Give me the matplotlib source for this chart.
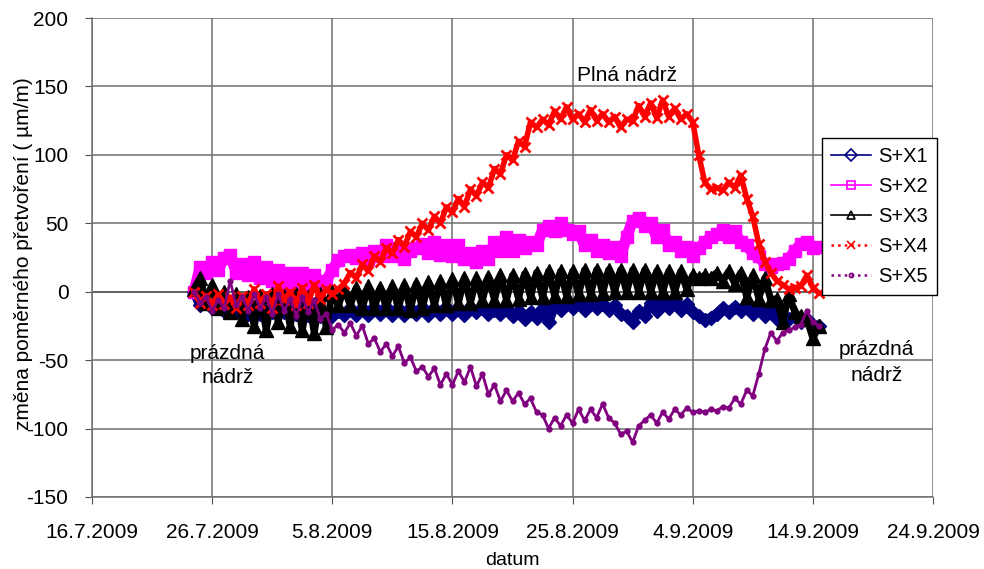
import matplotlib
matplotlib.use('Agg')
import matplotlib.pyplot as plt
import matplotlib.dates as mdates
from matplotlib.lines import Line2D
from matplotlib.ticker import FuncFormatter
import pandas as pd

plt.rcParams['font.family'] = ['Liberation Sans', 'DejaVu Sans']
plt.rcParams['axes.unicode_minus'] = False

# ---- data (half-day samples starting 24.7.2009 12:00) ----
start = '2009-07-24 12:00'
series_names = ['S+X1', 'S+X2', 'S+X3', 'S+X4', 'S+X5']

sx1 = [0, -10, -8, -12, -10, -14, -10, -15, -12, -16, -12, -16, -12, -15, -11, -15,
       -12, -16, -12, -17, -13, -18, -18, -18, -14, -17, -12, -17, -12, -17, -11, -16,
       -11, -17, -12, -17, -12, -16, -11, -17, -12, -16, -11, -16, -12, -17, -11, -15,
       -12, -16, -13, -16, -12, -18, -14, -20, -15, -19, -12, -22, -10, -13, -8, -12,
       -8, -13, -8, -12, -9, -13, -10, -16, -18, -22, -14, -18, -8, -14, -6, -12,
       -7, -13, -9, -15, -18, -21, -19, -16, -12, -15, -11, -14, -10, -16, -11, -18,
       -14, -20, -18, -20, -18, -22, -20, -24, -25]

sx2 = [0, 18, 14, 22, 16, 25, 27, 14, 20, 12, 22, 10, 18, 8, 16, 6,
       14, 5, 14, 4, 12, 4, 8, 16, 23, 26, 27, 25, 28, 24, 30, 26,
       34, 26, 32, 24, 30, 32, 35, 28, 36, 27, 34, 26, 34, 24, 28, 22,
       30, 24, 36, 30, 40, 30, 38, 32, 36, 34, 45, 48, 44, 50, 45, 42,
       44, 34, 38, 30, 34, 28, 33, 26, 40, 52, 54, 48, 50, 40, 45, 34,
       36, 30, 33, 26, 32, 36, 40, 42, 45, 40, 44, 36, 34, 28, 26, 20,
       18, 20, 21, 24, 30, 35, 36, 32, 33]

sx3 = [2, 10, -8, 5, -12, 0, -15, -2, -20, -4, -25, -3, -28, -2, -22, -3,
       -25, -2, -28, -4, -30, -2, -26, 0, -10, 2, -10, 3, -12, 4, -12, 3,
       -12, 4, -12, 5, -13, 6, -12, 7, -10, 8, -10, 9, -8, 10, -8, 10,
       -6, 11, -6, 12, -6, 12, -5, 13, -4, 14, -4, 15, -3, 15, -3, 15,
       -2, 16, -2, 16, -1, 16, 0, 16, 0, 16, 0, 16, 0, 15, 0, 15,
       0, 15, 2, 12, 10, 12, 10, 14, 8, 15, 6, 14, -4, 12, -5, 10,
       -6, -5, -22, -2, -15, -18, -20, -34, -25]

sx4 = [0, -8, -3, -10, -2, -9, -4, -12, -3, -10, 2, -8, -2, -12, 4, -6,
       0, -10, 3, -8, 5, -5, 2, -2, 2, 6, 14, 10, 20, 15, 26, 22,
       32, 28, 38, 33, 44, 40, 50, 45, 55, 50, 62, 58, 68, 62, 75, 70,
       80, 76, 90, 86, 100, 96, 110, 106, 124, 120, 126, 122, 132, 126, 135, 126,
       130, 124, 133, 125, 130, 124, 128, 120, 126, 125, 136, 128, 138, 127, 140, 128,
       134, 126, 130, 124, 100, 80, 75, 76, 74, 80, 76, 85, 68, 55, 35, 22,
       14, 8, 5, 2, 3, 4, 12, 3, -1]

sx5 = [0, -8, -4, -14, -6, -12, 8, -10, -4, -14, -2, -12, -4, -16, -2, -14,
       -5, -18, -4, -15, -6, -20, -16, -28, -24, -30, -23, -32, -25, -38, -34, -44,
       -38, -47, -40, -52, -48, -58, -55, -62, -56, -68, -60, -68, -58, -66, -55, -69,
       -60, -75, -68, -80, -72, -80, -74, -82, -78, -88, -90, -100, -92, -98, -90, -96,
       -86, -94, -86, -92, -82, -92, -96, -104, -102, -110, -98, -94, -90, -96, -88, -93,
       -86, -90, -85, -88, -87, -88, -86, -87, -84, -85, -78, -82, -72, -76, -60, -42,
       -30, -36, -30, -28, -26, -24, -14, -22, -25]

x_ticks = ['2009-07-16', '2009-07-26', '2009-08-05', '2009-08-15', '2009-08-25',
           '2009-09-04', '2009-09-14', '2009-09-24']
y_ticks = [-150, -100, -50, 0, 50, 100, 150, 200]

all_series = [sx1, sx2, sx3, sx4, sx5]
colors = ['#000080', '#FF00FF', '#000000', '#FF0000', '#800080']
markers = ['D', 's', '^', 'x', 'o']
linestyles = ['-', '-', '-', ':', ':']

times = pd.date_range(start, periods=len(sx1), freq='12h')

fig = plt.figure(figsize=(9.84, 5.69), dpi=100)
ax = fig.add_axes([92/984, 1-497/569, (933-92)/984, (497-18)/569])

band_lw = [7, 8, 5, 4, 2]
msz = [7, 8, 10, 7, 3.5]
for vals, c, m, lw, ms in zip(all_series, colors, markers, band_lw, msz):
    ax.plot(times, vals, color=c, lw=lw, solid_joinstyle='round', solid_capstyle='round', zorder=3)
    if m == 'x':
        ax.plot(times, vals, ls='none', marker=m, ms=ms, mec=c, mew=2, zorder=3)
    else:
        ax.plot(times, vals, ls='none', marker=m, ms=ms, mfc=c, mec=c, zorder=3)

xt = pd.to_datetime(x_ticks)
ax.set_xlim(xt[0], xt[-1])
ax.set_xticks(xt)
ax.xaxis.set_major_formatter(FuncFormatter(
    lambda v, p: (lambda d: f"{d.day}.{d.month}.{d.year}")(mdates.num2date(v))))
ax.set_ylim(-150, 200)
ax.set_yticks(y_ticks)

ax.grid(True, color='#707070', lw=1.1, zorder=1)
ax.axhline(0, color='black', lw=1.1, zorder=1.5)
for s in ['top', 'right']:
    ax.spines[s].set_visible(False)
for s in ['left', 'bottom']:
    ax.spines[s].set_color('#707070')
    ax.spines[s].set_linewidth(1.1)

ax.tick_params(axis='both', direction='out', length=5, color='#505050', labelsize=15)
ax.tick_params(axis='x', pad=14)
ax.tick_params(axis='y', pad=12)

ax.set_xlabel('datum', fontsize=14, labelpad=7)
ax.set_ylabel('změna poměrného přetvoření ( µm/m)', fontsize=15)
ax.yaxis.set_label_coords((33 - 92) / 841, (497 - 254) / 479)

# annotations
ax.text(pd.Timestamp('2009-08-29 12:00'), 158, 'Plná nádrž', fontsize=15, ha='center', va='center')
ax.text(pd.Timestamp('2009-07-27 07:00'), -45, 'prázdná', fontsize=15, ha='center', va='center')
ax.text(pd.Timestamp('2009-07-27 07:00'), -63, 'nádrž', fontsize=15, ha='center', va='center')
ax.text(pd.Timestamp('2009-09-19 07:00'), -42, 'prázdná', fontsize=15, ha='center', va='center', clip_on=False)
ax.text(pd.Timestamp('2009-09-19 07:00'), -61, 'nádrž', fontsize=15, ha='center', va='center', clip_on=False)

handles = []
for c, m, ls in zip(colors, markers, linestyles):
    handles.append(Line2D([], [], color=c, ls=ls, lw=1.8 if ls == ':' else 1.2, marker=m,
                          ms=6 if m != 'o' else 3, mfc='none', mec=c, mew=1.2))
leg = fig.legend(handles, series_names, loc='upper left', bbox_to_anchor=(822/984, 1-138/569),
                 fontsize=14.5, frameon=True, fancybox=False, edgecolor='black', framealpha=1,
                 handlelength=2.0, handletextpad=0.35, labelspacing=0.55, borderpad=0.45,
                 borderaxespad=0)
leg.get_frame().set_linewidth(1.0)

fig.savefig('out.png', dpi=100)
